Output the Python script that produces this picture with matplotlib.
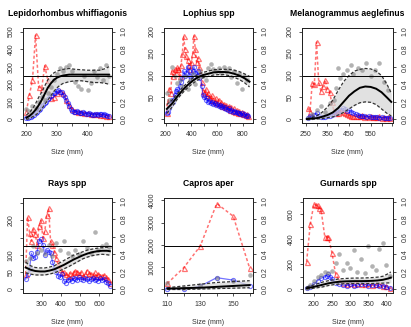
import matplotlib
matplotlib.use("Agg")
import matplotlib.pyplot as plt
import numpy as np

plt.rcParams['font.family'] = ['Liberation Sans', 'DejaVu Sans']

# ---------------- data ----------------
titles = ["Lepidorhombus whiffiagonis", "Lophius spp", "Melanogrammus aeglefinus",
          "Rays spp", "Capros aper", "Gurnards spp"]

# Lepidorhombus whiffiagonis
p1_red_x = [200, 210, 220, 230, 240, 250, 260, 270, 280, 290, 300, 310, 320, 330,
            340, 350, 360, 370, 380, 390, 400, 410, 420, 430, 440, 450, 460, 470]
p1_red_y = [45, 140, 225, 480, 185, 175, 305, 225, 120, 130, 150, 160, 150, 110,
            80, 60, 50, 45, 42, 38, 36, 33, 30, 30, 28, 25, 22, 20]
p1_blue_x = [200, 205, 210, 215, 220, 225, 230, 235, 240, 245, 250, 255, 260, 265,
             270, 275, 280, 285, 290, 295, 300, 305, 310, 315, 320, 325, 330, 335,
             340, 345, 350, 355, 360, 365, 370, 375, 380, 385, 390, 395, 400, 405,
             410, 415, 420, 425, 430, 435, 440, 445, 450, 455, 460, 465, 470]
p1_blue_y = [8, 10, 12, 16, 20, 26, 35, 42, 55, 62, 75, 82, 95, 100, 115, 120, 135,
             138, 150, 148, 160, 165, 155, 158, 140, 130, 110, 95, 75, 60, 50, 45,
             40, 48, 45, 36, 35, 40, 35, 32, 30, 36, 32, 28, 28, 33, 30, 27, 33,
             30, 28, 32, 25, 22, 18]
p1_grey_x = [200, 210, 220, 230, 240, 250, 260, 270, 280, 290, 300, 310, 320, 330,
             340, 350, 360, 370, 380, 390, 400, 410, 420, 430, 440, 450, 460, 470]
p1_grey_y = [0.12, 0.1, 0.15, 0.13, 0.2, 0.25, 0.22, 0.3, 0.37, 0.45, 0.52, 0.58,
             0.55, 0.6, 0.62, 0.55, 0.43, 0.38, 0.35, 0.5, 0.34, 0.42, 0.55, 0.48,
             0.58, 0.45, 0.62, 0.5]
p1_fit_x = [200, 210, 220, 230, 240, 250, 260, 270, 280, 290, 300, 310, 320, 340,
            360, 380, 400, 420, 440, 460, 470]
p1_fit_y = [0.02, 0.04, 0.07, 0.11, 0.16, 0.22, 0.29, 0.36, 0.41, 0.45, 0.475, 0.49,
            0.5, 0.51, 0.51, 0.51, 0.51, 0.51, 0.51, 0.51, 0.51]
p1_fit_hi = [0.05, 0.08, 0.12, 0.18, 0.25, 0.31, 0.38, 0.45, 0.5, 0.53, 0.55, 0.56,
             0.57, 0.58, 0.57, 0.565, 0.56, 0.56, 0.56, 0.58, 0.6]
p1_fit_lo = [0.0, 0.01, 0.03, 0.05, 0.08, 0.12, 0.17, 0.22, 0.27, 0.32, 0.36, 0.39,
             0.41, 0.43, 0.44, 0.44, 0.43, 0.42, 0.42, 0.41, 0.4]

# Lophius spp
p2_x = list(range(210, 850, 10))
p2_red_y = [15, 40, 70, 60, 110, 100, 115, 105, 120, 115, 100, 125, 150, 190, 160,
            145, 135, 125, 115, 130, 150, 190, 160, 130, 140, 120, 105, 85, 65, 60,
            70, 55, 60, 50, 45, 55, 45, 40, 48, 38, 45, 35, 40, 30, 36, 28, 32, 25,
            30, 22, 28, 20, 25, 18, 22, 15, 20, 14, 18, 12, 15, 10, 12, 8]
p2_blue_y = [15, 18, 25, 35, 45, 40, 55, 65, 70, 60, 75, 85, 95, 110, 100, 105,
             120, 110, 100, 95, 110, 120, 105, 100, 110, 95, 100, 75, 55, 50, 45,
             48, 40, 42, 38, 40, 35, 38, 32, 35, 30, 32, 28, 30, 25, 28, 24, 22, 26,
             20, 22, 18, 20, 16, 18, 14, 15, 12, 14, 10, 12, 9, 10, 7]
p2_grey_x = list(range(210, 850, 20))
p2_grey_y = [0.3, 0.22, 0.6, 0.5, 0.42, 0.45, 0.38, 0.5, 0.35, 0.45, 0.52, 0.4,
             0.48, 0.55, 0.5, 0.45, 0.58, 0.63, 0.57, 0.55, 0.58, 0.53, 0.6, 0.55,
             0.58, 0.48, 0.55, 0.42, 0.52, 0.35, 0.5, 0.45]
p2_fit_x = [210, 250, 290, 330, 370, 410, 450, 490, 530, 570, 610, 650, 690, 730,
            770, 810, 850]
p2_fit_y = [0.12, 0.18, 0.26, 0.33, 0.39, 0.44, 0.48, 0.505, 0.52, 0.535, 0.54,
            0.54, 0.535, 0.52, 0.5, 0.47, 0.43]
p2_fit_hi = [0.17, 0.22, 0.29, 0.36, 0.42, 0.47, 0.51, 0.535, 0.55, 0.565, 0.57,
             0.57, 0.57, 0.56, 0.545, 0.52, 0.49]
p2_fit_lo = [0.07, 0.14, 0.23, 0.3, 0.36, 0.41, 0.45, 0.475, 0.49, 0.505, 0.51,
             0.51, 0.5, 0.48, 0.455, 0.42, 0.37]

# Melanogrammus aeglefinus
p3_x = list(range(260, 650, 10))
p3_red_y = [25, 18, 82, 80, 176, 86, 65, 75, 90, 70, 62, 40, 20, 15, 14, 20, 18,
            15, 12, 10, 9, 8, 7, 9, 7, 10, 6, 8, 6, 7, 5, 6, 5, 7, 4, 5, 4, 5, 3]
p3_blue_y = [3, 8, 5, 10, 15, 8, 5, 6, 5, 8, 7, 10, 12, 15, 18, 22, 25, 24, 20, 22,
             18, 14, 12, 10, 9, 8, 8, 6, 7, 6, 5, 6, 5, 4, 5, 4, 4, 3, 3]
p3_grey_x = [260, 280, 300, 320, 340, 360, 380, 390, 400, 410, 420, 440, 460, 470,
             490, 510, 530, 550, 570, 590, 610, 630]
p3_grey_y = [0.02, 0.06, 0.11, 0.15, 0.08, 0.19, 0.22, 0.36, 0.58, 0.47, 0.52, 0.56,
             0.62, 0.52, 0.58, 0.56, 0.64, 0.49, 0.56, 0.64, 0.43, 0.34]
p3_fit_x = [255, 275, 300, 325, 350, 375, 400, 425, 450, 475, 500, 525, 550, 575,
            600, 625, 645]
p3_fit_y = [0.005, 0.01, 0.015, 0.03, 0.05, 0.08, 0.13, 0.2, 0.27, 0.32, 0.36, 0.375,
            0.37, 0.35, 0.31, 0.25, 0.2]
p3_fit_hi = [0.01, 0.02, 0.04, 0.08, 0.14, 0.22, 0.33, 0.43, 0.5, 0.55, 0.57, 0.58,
             0.575, 0.55, 0.5, 0.4, 0.3]
p3_fit_lo = [0.0, 0.003, 0.005, 0.01, 0.02, 0.03, 0.05, 0.08, 0.12, 0.16, 0.19, 0.2,
             0.195, 0.17, 0.12, 0.07, 0.04]

# Rays spp
p4_x = list(range(215, 665, 10))
p4_red_y = [45, 210, 165, 140, 175, 160, 130, 185, 200, 150, 170, 215, 235, 140,
            130, 110, 90, 70, 60, 52, 50, 45, 40, 48, 42, 50, 55, 52, 45, 50, 38,
            45, 55, 48, 45, 40, 50, 38, 45, 40, 38, 42, 35, 30, 20]
p4_blue_y = [30, 45, 60, 105, 90, 95, 110, 140, 145, 130, 100, 115, 110, 105, 80,
             60, 50, 40, 35, 45, 25, 20, 28, 30, 25, 32, 30, 28, 35, 30, 28, 32, 30,
             25, 30, 33, 28, 30, 25, 32, 28, 30, 22, 18, 10]
p4_grey_x = [215, 235, 255, 275, 295, 315, 335, 355, 375, 395, 415, 435, 455, 475,
             495, 515, 535, 555, 575, 595, 615, 635, 650]
p4_grey_y = [0.32, 0.36, 0.49, 0.42, 0.45, 0.4, 0.51, 0.38, 0.53, 0.45, 0.55, 0.42,
             0.38, 0.45, 0.4, 0.55, 0.47, 0.42, 0.65, 0.45, 0.5, 0.52, 0.48]
p4_fit_x = [215, 240, 265, 290, 315, 340, 365, 390, 415, 440, 465, 490, 515, 540,
            565, 590, 615, 640, 655]
p4_fit_y = [0.25, 0.225, 0.21, 0.205, 0.205, 0.215, 0.23, 0.255, 0.28, 0.31, 0.34,
            0.365, 0.39, 0.41, 0.425, 0.435, 0.44, 0.44, 0.435]
p4_fit_hi = [0.31, 0.27, 0.25, 0.245, 0.245, 0.255, 0.27, 0.3, 0.33, 0.36, 0.39,
             0.41, 0.43, 0.45, 0.46, 0.47, 0.475, 0.48, 0.48]
p4_fit_lo = [0.19, 0.175, 0.165, 0.165, 0.165, 0.175, 0.19, 0.21, 0.235, 0.26, 0.29,
             0.32, 0.35, 0.37, 0.385, 0.395, 0.4, 0.395, 0.39]

# Capros aper
p5_x = [110, 120, 130, 140, 150, 160]
p5_red_y = [270, 980, 1950, 3860, 3290, 950]
p5_blue_y = [30, 0, 150, 530, 420, 170]
p5_grey_y = [0.07, 0.02, 0.05, 0.125, 0.1, 0.16]
p5_fit_y = [0.01, 0.015, 0.02, 0.03, 0.04, 0.05]
p5_fit_hi = [0.02, 0.04, 0.06, 0.08, 0.09, 0.1]
p5_fit_lo = [0.0, 0.0, 0.005, 0.01, 0.015, 0.02]

# Gurnards spp
p6_red_x = [180, 190, 200, 205, 210, 215, 220, 230, 235, 240, 250, 260, 270, 280,
            290, 300, 310, 320, 330, 340, 350, 360, 370, 380, 390, 400, 410]
p6_red_y = [220, 520, 680, 670, 670, 650, 630, 420, 420, 415, 290, 120, 70, 55, 45,
            50, 40, 55, 45, 40, 50, 35, 40, 45, 30, 25, 15]
p6_blue_x = [180, 190, 200, 210, 220, 230, 235, 240, 245, 250, 260, 270, 280, 290,
             300, 310, 320, 330, 340, 350, 360, 370, 380, 390, 400, 410]
p6_blue_y = [10, 20, 40, 70, 90, 100, 110, 120, 100, 80, 55, 40, 35, 30, 40, 30, 35,
             45, 40, 30, 38, 35, 25, 30, 20, 8]
p6_grey_x = list(range(180, 420, 10))
p6_grey_y = [0.02, 0.05, 0.1, 0.14, 0.17, 0.2, 0.19, 0.21, 0.3, 0.4, 0.22, 0.3,
             0.24, 0.45, 0.2, 0.35, 0.19, 0.5, 0.27, 0.22, 0.46, 0.53, 0.28, 0.15]
p6_fit_x = [180, 195, 210, 225, 240, 255, 270, 285, 300, 315, 330, 345, 360, 375,
            390, 405, 412]
p6_fit_y = [0.015, 0.025, 0.04, 0.055, 0.07, 0.08, 0.088, 0.092, 0.094, 0.095, 0.095,
            0.096, 0.098, 0.102, 0.11, 0.125, 0.135]
p6_fit_hi = [0.03, 0.045, 0.065, 0.085, 0.1, 0.11, 0.12, 0.125, 0.128, 0.13, 0.13,
             0.132, 0.135, 0.14, 0.15, 0.18, 0.2]
p6_fit_lo = [0.005, 0.012, 0.02, 0.03, 0.045, 0.055, 0.062, 0.066, 0.068, 0.068,
             0.068, 0.068, 0.068, 0.07, 0.072, 0.075, 0.075]

# ---------------- layout ----------------
W, H = 411, 327
fig = plt.figure(figsize=(W / 100, H / 100), dpi=100)

boxes = [(23, 28, 112, 123), (164, 28, 253, 123), (302, 28, 393, 123),
         (23, 198, 112, 293), (164, 198, 253, 293), (303, 198, 393, 293)]
xlims = [(189, 480), (188, 877), (233, 653), (201, 666), (108, 162), (170, 418)]
left_max = [500, 200, 200, 255, 3950, 700]
xticks = [([200, 250, 300, 350, 400, 450], ['200', '', '300', '', '400', '']),
          ([200, 300, 400, 500, 600, 700, 800], ['200', '', '400', '', '600', '', '800']),
          ([250, 300, 350, 400, 450, 500, 550, 600, 650], ['250', '', '350', '', '450', '', '550', '', '']),
          ([300, 400, 500, 600], ['300', '400', '500', '600']),
          ([110, 120, 130, 140, 150, 160], ['110', '', '130', '', '150', '']),
          ([200, 250, 300, 350, 400], ['200', '250', '300', '350', '400'])]
yticks = [([0, 100, 200, 300, 400, 500], ['0', '100', '200', '300', '400', '500']),
          ([0, 50, 100, 150, 200], ['0', '50', '100', '150', '200']),
          ([0, 50, 100, 150, 200], ['0', '50', '100', '150', '200']),
          ([0, 50, 100, 150, 200, 250], ['0', '50', '100', '', '200', '']),
          ([0, 1000, 2000, 3000, 4000], ['0', '1000', '2000', '3000', '4000']),
          ([0, 100, 200, 300, 400, 500, 600, 700], ['0', '', '200', '', '400', '', '600', ''])]

panels = [
    (p1_red_x, p1_red_y, p1_blue_x, p1_blue_y, p1_grey_x, p1_grey_y,
     p1_fit_x, p1_fit_y, p1_fit_lo, p1_fit_hi),
    (p2_x, p2_red_y, p2_x, p2_blue_y, p2_grey_x, p2_grey_y,
     p2_fit_x, p2_fit_y, p2_fit_lo, p2_fit_hi),
    (p3_x, p3_red_y, p3_x, p3_blue_y, p3_grey_x, p3_grey_y,
     p3_fit_x, p3_fit_y, p3_fit_lo, p3_fit_hi),
    (p4_x, p4_red_y, p4_x, p4_blue_y, p4_grey_x, p4_grey_y,
     p4_fit_x, p4_fit_y, p4_fit_lo, p4_fit_hi),
    (p5_x, p5_red_y, p5_x, p5_blue_y, p5_x, p5_grey_y,
     p5_x, p5_fit_y, p5_fit_lo, p5_fit_hi),
    (p6_red_x, p6_red_y, p6_blue_x, p6_blue_y, p6_grey_x, p6_grey_y,
     p6_fit_x, p6_fit_y, p6_fit_lo, p6_fit_hi),
]

tcol = '#333333'
for i, (rx, ry, bx, by, gx, gy, fx, fy, flo, fhi) in enumerate(panels):
    l, t, r, b = boxes[i]
    ax = fig.add_axes([l / W, 1 - b / H, (r - l) / W, (b - t) / H])
    m = left_max[i]

    # counts on the left axis
    ax.plot(rx, ry, color='red', alpha=0.55, lw=1.1, dashes=(2, 1.5),
            marker='^', ms=3.6, mfc='none', mew=0.9)
    ax.plot(bx, by, color='blue', alpha=0.55, lw=0.9,
            marker='o', ms=3.0, mfc='none', mew=0.8)
    ax.set_xlim(*xlims[i])
    ax.set_ylim(-0.04 * m, 1.04 * m)
    ax.set_xticks(xticks[i][0])
    ax.set_xticklabels(xticks[i][1])
    ax.set_yticks(yticks[i][0])
    ax.set_yticklabels(yticks[i][1])
    ax.tick_params(axis='y', labelrotation=90)
    ax.tick_params(length=2.5, width=0.6, labelsize=5, pad=3.5, colors=tcol)
    for s in ax.spines.values():
        s.set_linewidth(0.7)
        s.set_color('#222222')
    for lab in ax.get_yticklabels():
        lab.set_va('center')

    # proportions on the right axis
    ax2 = ax.twinx()
    ax2.fill_between(fx, flo, fhi, color='#d8d8d8', alpha=0.75, lw=0)
    ax2.plot(fx, fhi, color='#333333', lw=0.9, dashes=(2.5, 1.5))
    ax2.plot(fx, flo, color='#333333', lw=0.9, dashes=(2.5, 1.5))
    ax2.plot(fx, fy, color='black', lw=1.4)
    ax2.scatter(gx, gy, s=11, color='grey', alpha=0.6, lw=0)
    ax2.axhline(0.5, color='black', lw=0.7)
    ax2.set_ylim(-0.04, 1.04)
    ax2.set_yticks([0, 0.2, 0.4, 0.6, 0.8, 1.0])
    ax2.set_yticklabels(['0.0', '0.2', '0.4', '0.6', '0.8', '1.0'])
    ax2.tick_params(axis='y', labelrotation=90)
    ax2.tick_params(length=2.5, width=0.6, labelsize=5, pad=3.5, colors=tcol)
    for lab in ax2.get_yticklabels():
        lab.set_va('center')
    for s in ax2.spines.values():
        s.set_linewidth(0.7)
        s.set_color('#222222')

    ax.set_title(titles[i], fontsize=6.2, fontweight='bold', pad=9)
    ax.set_xlabel('Size (mm)', fontsize=5, color=tcol, labelpad=8)

fig.savefig('out.png', dpi=100)
